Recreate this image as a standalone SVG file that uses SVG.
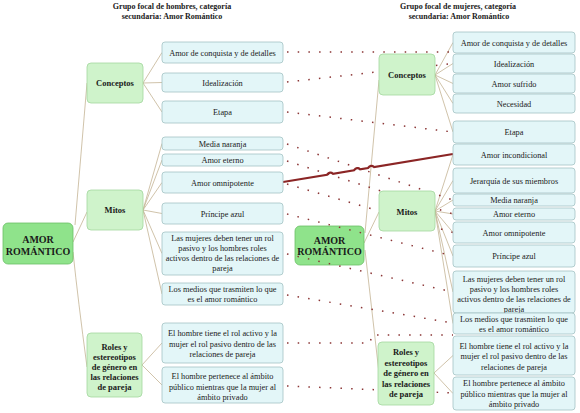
<svg xmlns="http://www.w3.org/2000/svg" width="580" height="413" viewBox="0 0 580 413">
<style>
text{font-family:"Liberation Serif","Times New Roman",serif;fill:#1a1a1a;text-anchor:middle}
.t{font-size:8px;font-weight:bold}
.lf rect{fill:#e3f6f8;stroke:#a3c3c4;stroke-width:0.8}
.lf text{font-size:8.3px}
.ct rect{fill:#cff3cb;stroke:#a3d79e;stroke-width:0.8}
.ct text{font-size:8.5px;font-weight:bold}
.rt rect{fill:#8fe38b;stroke:#6bbf66;stroke-width:0.8}
.rt text{font-size:10px;font-weight:bold}
.tree path{fill:none;stroke:#c4b494;stroke-width:0.8}
.dot path{fill:none;stroke:#8b3535;stroke-width:1.5;stroke-dasharray:1.5 9.2}
.red{fill:none;stroke:#8b2525;stroke-width:2.2}
</style>
<rect width="580" height="413" fill="#fff"/>
<g id="titles">
<text class="t" x="172" y="9">Grupo focal de hombres, categoría</text>
<text class="t" x="172" y="19">secundaria: Amor Romántico</text>
<text class="t" x="458" y="9">Grupo focal de mujeres, categoría</text>
<text class="t" x="459" y="19">secundaria: Amor Romántico</text>
</g>
<g id="tree" class="tree">
<path d="M75,225 L87,83"/>
<path d="M73,242 L87,212"/>
<path d="M73,252 Q78,300 87,367"/>
<path d="M143,83 L162,52.5 M143,83 L162,82.5 M143,83 L162,112"/>
<path d="M143,210 L162,143.5 M143,210 L162,160 M143,210 L162,182.5 M143,210 L162,213.5 M143,210 L162,253.5 M143,210 L162,294"/>
<path d="M142,365 L162,343 M142,365 L162,385"/>
<path d="M365,233 L379,80"/>
<path d="M364,243 L379,212"/>
<path d="M365,250 L379,373"/>
<path d="M435,75 L453,42.5 M435,75 L453,63.5 M435,75 L453,83.5 M435,75 L453,103.5 M435,75 L453,132"/>
<path d="M435,211 L453,154.5 M435,211 L453,180.5 M435,211 L453,200 M435,211 L453,214 M435,211 L453,232.5 M435,211 L453,256 M435,211 L453,292 M435,211 L453,323.5"/>
<path d="M434,373 L453,355.5 M434,373 L453,393.5"/>
</g>
<g id="root-left" class="rt"><rect x="3" y="223" width="70" height="41" rx="5"/><text x="38" y="243">AMOR</text><text x="38" y="254.5">ROMÁNTICO</text></g>
<g id="root-right" class="rt"><rect x="295" y="226" width="69" height="39" rx="5"/><text x="329.5" y="244">AMOR</text><text x="329.5" y="254.5">ROMÁNTICO</text></g>
<g id="connectors">
<g class="dot">
<path d="M287,52 L453,52"/>
<path d="M287,82 L453,63.5"/>
<path d="M287,112 L453,132"/>
<path d="M287,144 L453,200"/>
<path d="M287,161 L453,214"/>
<path d="M287,184 L453,232.5"/>
<path d="M287,214 L453,256"/>
<path d="M287,254 L453,292"/>
<path d="M287,295 L453,323"/>
<path d="M287,343 L370,343 L372,335 L453,335"/>
<path d="M287,386 L453,393"/>
</g>
<path class="red" d="M283,182 L327,174.76 Q330,171 333,173.77 L354,170.3 Q357,166.6 360,169.3 L368,168 Q371,164.3 374,167 L453,154"/>
</g>
<g id="cat-left-conceptos" class="ct"><rect x="87" y="63" width="56" height="40" rx="4"/><text x="115" y="86">Conceptos</text></g>
<g id="cat-left-mitos" class="ct"><rect x="87" y="190" width="56" height="40" rx="4"/><text x="115" y="213">Mitos</text></g>
<g id="cat-left-roles" class="ct"><rect x="87" y="333" width="55" height="64" rx="4"/><text x="114.5" y="350">Roles y</text><text x="114.5" y="360">estereotipos</text><text x="114.5" y="369.5">de género en</text><text x="114.5" y="379.5">las relaciones</text><text x="114.5" y="389.5">de pareja</text></g>
<g id="cat-right-conceptos" class="ct"><rect x="379" y="54" width="56" height="41" rx="4"/><text x="407" y="78">Conceptos</text></g>
<g id="cat-right-mitos" class="ct"><rect x="379" y="191" width="56" height="40" rx="4"/><text x="407" y="214.5">Mitos</text></g>
<g id="cat-right-roles" class="ct"><rect x="378" y="342" width="56" height="63" rx="4"/><text x="406" y="355">Roles y</text><text x="406" y="365.5">estereotipos</text><text x="406" y="376">de género en</text><text x="406" y="386.5">las relaciones</text><text x="406" y="397">de pareja</text></g>
<g id="left-leaves" class="lf">
<g id="l1"><rect x="162" y="42" width="121" height="21" rx="3"/><text x="222.5" y="55.5">Amor de conquista y de detalles</text></g>
<g id="l2"><rect x="162" y="73" width="121" height="19" rx="3"/><text x="222.5" y="85.5">Idealización</text></g>
<g id="l3"><rect x="162" y="101" width="121" height="22" rx="3"/><text x="222.5" y="115">Etapa</text></g>
<g id="l4"><rect x="162" y="137" width="121" height="13" rx="3"/><text x="222.5" y="146.5">Media naranja</text></g>
<g id="l5"><rect x="162" y="154" width="121" height="12" rx="3"/><text x="222.5" y="163">Amor eterno</text></g>
<g id="l6"><rect x="162" y="172" width="121" height="21" rx="3"/><text x="222.5" y="185.5">Amor omnipotente</text></g>
<g id="l7"><rect x="162" y="203" width="121" height="21" rx="3"/><text x="222.5" y="216.5">Príncipe azul</text></g>
<g id="l8"><rect x="162" y="232" width="121" height="43" rx="3"/><text x="222.5" y="241">Las mujeres deben tener un rol</text><text x="222.5" y="251">pasivo y los hombres roles</text><text x="222.5" y="261">activos dentro de las relaciones de</text><text x="222.5" y="271">pareja</text></g>
<g id="l9"><rect x="162" y="283" width="121" height="22" rx="3"/><text x="222.5" y="292">Los medios que trasmiten lo que</text><text x="222.5" y="302">es el amor romántico</text></g>
<g id="l10"><rect x="162" y="323" width="121" height="40" rx="3"/><text x="222.5" y="336">El hombre tiene el rol activo y la</text><text x="222.5" y="346.5">mujer el rol pasivo dentro de las</text><text x="222.5" y="357">relaciones de pareja</text></g>
<g id="l11"><rect x="162" y="367" width="121" height="36" rx="3"/><text x="222.5" y="379">El hombre pertenece al ámbito</text><text x="222.5" y="390">público mientras que la mujer al</text><text x="222.5" y="400">ámbito privado</text></g>
</g>
<g id="right-leaves" class="lf">
<g id="r1"><rect x="453" y="32" width="122" height="21" rx="3"/><text x="514" y="45.5">Amor de conquista y de detalles</text></g>
<g id="r2"><rect x="453" y="54" width="122" height="19" rx="3"/><text x="514" y="66.5">Idealización</text></g>
<g id="r3"><rect x="453" y="74" width="122" height="19" rx="3"/><text x="514" y="86.5">Amor sufrido</text></g>
<g id="r4"><rect x="453" y="94" width="122" height="19" rx="3"/><text x="514" y="106.5">Necesidad</text></g>
<g id="r5"><rect x="453" y="121" width="122" height="22" rx="3"/><text x="514" y="135">Etapa</text></g>
<g id="r6"><rect x="453" y="144" width="122" height="21" rx="3"/><text x="514" y="157.5">Amor incondicional</text></g>
<g id="r7"><rect x="453" y="168" width="122" height="25" rx="3"/><text x="514" y="183.5">Jerarquía de sus miembros</text></g>
<g id="r8"><rect x="453" y="194" width="122" height="12" rx="3"/><text x="514" y="203">Media naranja</text></g>
<g id="r9"><rect x="453" y="208" width="122" height="12" rx="3"/><text x="514" y="217">Amor eterno</text></g>
<g id="r10"><rect x="453" y="222" width="122" height="21" rx="3"/><text x="514" y="235.5">Amor omnipotente</text></g>
<g id="r11"><rect x="453" y="245" width="122" height="22" rx="3"/><text x="514" y="259">Príncipe azul</text></g>
<g id="r12"><rect x="453" y="271" width="122" height="42" rx="3"/><text x="514" y="282">Las mujeres deben tener un rol</text><text x="514" y="292">pasivo y los hombres roles</text><text x="514" y="302">activos dentro de las relaciones de</text><text x="514" y="311.5">pareja</text></g>
<g id="r13"><rect x="453" y="313" width="122" height="21" rx="3"/><text x="514" y="322">Los medios que trasmiten lo que</text><text x="514" y="332">es el amor romántico</text></g>
<g id="r14"><rect x="453" y="336" width="122" height="39" rx="3"/><text x="514" y="349">El hombre tiene el rol activo y la</text><text x="514" y="359">mujer el rol pasivo dentro de las</text><text x="514" y="370">relaciones de pareja</text></g>
<g id="r15"><rect x="453" y="377" width="122" height="33" rx="3"/><text x="514" y="386">El hombre pertenece al ámbito</text><text x="514" y="397">público mientras que la mujer al</text><text x="514" y="406.5">ámbito privado</text></g>
</g>
</svg>
